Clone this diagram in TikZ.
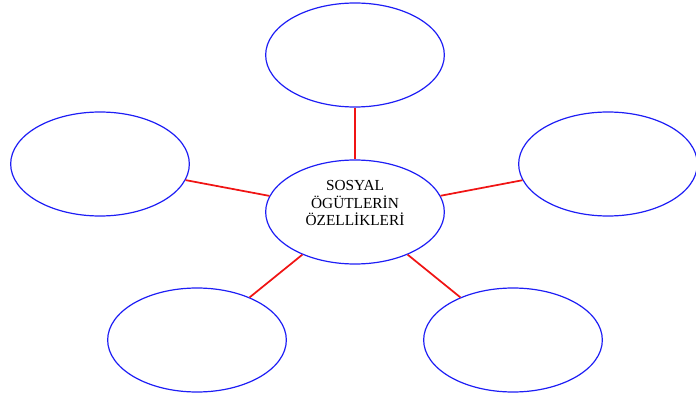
\documentclass[tikz,border=0pt]{standalone}
\usepackage{fontspec}
\setmainfont{Liberation Serif}
\usetikzlibrary{shapes.geometric}

\tikzset{
  bubble/.style={ellipse, draw={rgb,255:red,30; green,30; blue,245}, line width=0.9pt, minimum width=134pt, minimum height=78pt, inner sep=0pt},
  spoke/.style={draw={rgb,255:red,240; green,20; blue,20}, line width=1.3pt}
}

\begin{document}
\begin{tikzpicture}[x=0.75pt,y=0.75pt,yscale=-1,xscale=1]
\useasboundingbox (0,0) rectangle (696,399);

%Center bubble
\node [bubble] (hub) at (355,212) {};
\node [align=center, font=\fontsize{11.5}{13}\selectfont, inner sep=0pt] (hubtext) at (355,203) {SOSYAL\\ÖGÜTLERİN\\ÖZELLİKLERİ};

%Outer bubbles
\node [bubble] (top) at (355,55) {};
\node [bubble] (left) at (100,164) {};
\node [bubble] (right) at (608,164) {};
\node [bubble] (botleft) at (197,340) {};
\node [bubble] (botright) at (513,340) {};

%Spokes
\draw [spoke] (top) -- (hub);
\draw [spoke] (left) -- (hub);
\draw [spoke] (right) -- (hub);
\draw [spoke] (botleft) -- (hub);
\draw [spoke] (botright) -- (hub);

\end{tikzpicture}
\end{document}
